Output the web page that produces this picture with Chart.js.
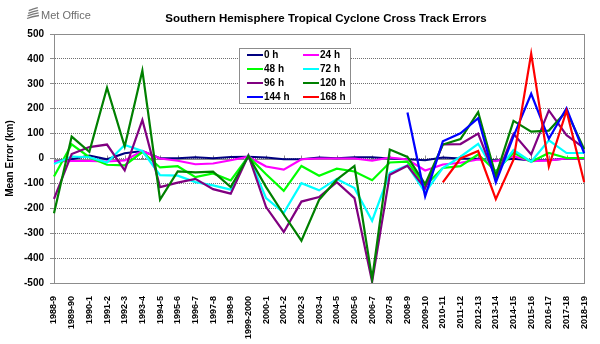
<!DOCTYPE html>
<html>
<head>
<meta charset="utf-8">
<script src="https://cdn.jsdelivr.net/npm/chart.js@4/dist/chart.umd.min.js"></script>
<style>
  html, body { margin: 0; padding: 0; background: #fff; }
  #wrap { width: 600px; height: 344px; }
</style>
</head>
<body>
<div id="wrap"><canvas id="c" width="600" height="344"></canvas></div>
<script>
// Seasons (July-June) on the category axis
const seasons = ['1988-9','1989-90','1990-1','1991-2','1992-3','1993-4','1994-5','1995-6','1996-7','1997-8',
  '1998-9','1999-2000','2000-1','2001-2','2002-3','2003-4','2004-5','2005-6','2006-7','2007-8',
  '2008-9','2009-10','2010-11','2011-12','2012-13','2013-14','2014-15','2015-16','2016-17','2017-18','2018-19'];

// Mean cross-track error (km) by forecast lead time
const err0h   = [-13, -3, 12, -3, 21, 30, 1, 1, 5, 1, 6, 7, 4, -3, -3, 4, 1, 5, 5, 0, -3, -7, 4, 0, -1, -8, -1, -8, -7, 0, 0];
const err24h  = [-12, -10, -10, -12, -8, 30, 0, -9, -23, -20, -7, 7, -32, -45, -3, 0, 0, 0, -9, 4, -4, -48, -24, -17, -4, -11, 9, -11, -8, 0, 0];
const err48h  = [-72, 57, 5, -25, -28, 26, -36, -31, -75, -60, -88, 8, -63, -130, -30, -69, -41, -52, -87, -16, -13, -110, -38, -31, 16, -51, 23, -13, 22, 2, 2];
const err72h  = [-22, 8, 5, -16, 54, 30, -67, -69, -95, -108, -125, 12, -159, -218, -99, -128, -82, -119, -250, -58, -28, -137, -38, 7, 59, -60, 34, -13, 73, 22, 22];
const err96h  = [-162, 18, 46, 56, -48, 155, -115, -97, -82, -123, -141, 12, -195, -295, -173, -155, -95, -159, -495, -65, -29, -120, 57, 58, 100, -82, 99, 16, 193, 94, 42];
const err120h = [-220, 88, 27, 284, 48, 353, -165, -52, -56, -53, -115, 10, -115, -225, -330, -166, -85, -30, -485, 36, 6, -103, 56, 78, 186, -70, 151, 108, 112, 190, 37];
const err144h = [null, null, null, null, null, null, null, null, null, null, null, null, null, null, null, null, null, null, null, null,
  185, -152, 69, 101, 162, -96, 89, 260, 79, 202, 21];
const err168h = [null, null, null, null, null, null, null, null, null, null, null, null, null, null, null, null, null, null, null, null, null, null,
  -96, 0, 30, -163, -5, 421, -32, 192, -95];

const leadLabels = ['0 h', '24 h', '48 h', '72 h', '96 h', '120 h', '144 h', '168 h'];
const leadColors = ['#000080', '#ff00ff', '#00ff00', '#00ffff', '#800080', '#008000', '#0000ff', '#ff0000'];
const leadSeries = [err0h, err24h, err48h, err72h, err96h, err120h, err144h, err168h];

const FONT = '"Liberation Sans", Arial, sans-serif';

// Plot frame plus the category axis line crossing at zero
const framePlugin = {
  id: 'frame',
  beforeDatasetsDraw(chart) {
    const { ctx, chartArea: a, scales: { x, y } } = chart;
    ctx.save();
    ctx.strokeStyle = '#8c8c8c';
    ctx.lineWidth = 1;
    ctx.strokeRect(Math.round(a.left) + 0.5, Math.round(a.top) + 0.5,
      Math.round(a.right - a.left), Math.round(a.bottom - a.top));
    const y0 = Math.round(y.getPixelForValue(0)) + 0.5;
    ctx.beginPath();
    ctx.moveTo(a.left, y0);
    ctx.lineTo(a.right, y0);
    for (let i = 0; i < seasons.length; i++) {
      const px = Math.round(x.getPixelForValue(i)) + 0.5;
      ctx.moveTo(px, y0 - 4);
      ctx.lineTo(px, y0);
    }
    ctx.stroke();
    ctx.restore();
  }
};

// Boxed two-column key inside the plot
const keyPlugin = {
  id: 'key',
  afterDatasetsDraw(chart) {
    const { ctx } = chart;
    ctx.save();
    ctx.fillStyle = '#ffffff';
    ctx.fillRect(239.5, 48.5, 111, 55);
    ctx.strokeStyle = '#8c8c8c';
    ctx.lineWidth = 1;
    ctx.strokeRect(239.5, 48.5, 111, 55);
    ctx.font = 'bold 10px ' + FONT;
    ctx.textBaseline = 'middle';
    ctx.textAlign = 'left';
    const rows = [55, 69, 83, 97];
    const cols = [247, 303];
    chart.data.datasets.forEach((ds, i) => {
      const cx = cols[i % 2];
      const cy = rows[Math.floor(i / 2)];
      ctx.strokeStyle = ds.borderColor;
      ctx.lineWidth = 2;
      ctx.beginPath();
      ctx.moveTo(cx, cy);
      ctx.lineTo(cx + 16, cy);
      ctx.stroke();
      ctx.fillStyle = '#000';
      ctx.fillText(ds.label, cx + 17, cy + 0.5);
    });
    ctx.restore();
  }
};

// Heading and organisation mark
const headPlugin = {
  id: 'head',
  afterDraw(chart) {
    const { ctx } = chart;
    ctx.save();
    ctx.fillStyle = '#000';
    ctx.font = 'bold 11.5px ' + FONT;
    ctx.textAlign = 'center';
    ctx.textBaseline = 'middle';
    ctx.fillText('Southern Hemisphere Tropical Cyclone Cross Track Errors', 326, 19);

    ctx.strokeStyle = '#7a7a7a';
    ctx.lineWidth = 1.3;
    for (let k = 0; k < 4; k++) {
      ctx.beginPath();
      ctx.moveTo(27 + k * 0.6, 18.5 - k * 2.6);
      ctx.quadraticCurveTo(32 + k * 0.6, 16.5 - k * 2.6, 39 - k * 0.4, 15.5 - k * 2.6);
      ctx.stroke();
    }
    ctx.fillStyle = '#6e6e6e';
    ctx.font = '11px ' + FONT;
    ctx.textAlign = 'left';
    ctx.fillText('Met Office', 41, 15.5);
    ctx.restore();
  }
};

new Chart(document.getElementById('c'), {
  type: 'line',
  data: {
    labels: seasons,
    datasets: leadSeries.map((vals, i) => ({
      label: leadLabels[i],
      data: vals,
      borderColor: leadColors[i],
      backgroundColor: leadColors[i],
      borderWidth: 2.2,
      pointRadius: 0,
      tension: 0,
      fill: false,
      order: leadSeries.length - i
    }))
  },
  options: {
    responsive: false,
    animation: false,
    devicePixelRatio: 1,
    layout: { padding: { top: 34, right: 14, left: 0, bottom: 0 } },
    plugins: {
      legend: { display: false },
      title: { display: false },
      tooltip: { enabled: false }
    },
    scales: {
      x: {
        type: 'category',
        offset: false,
        grid: { display: false },
        border: { display: false },
        ticks: {
          autoSkip: false,
          maxRotation: 90,
          minRotation: 90,
          padding: 5,
          color: '#000',
          font: { family: FONT, size: 9, weight: 'bold' }
        },
        afterFit(s) { s.height = 61; }
      },
      y: {
        min: -500,
        max: 500,
        ticks: {
          stepSize: 100,
          padding: 6,
          color: '#000',
          font: { family: FONT, size: 10, weight: 'bold' }
        },
        grid: { color: '#6f6f6f', tickColor: '#8c8c8c', tickLength: 4, lineWidth: 1 },
        border: { display: true, color: '#8c8c8c', dash: [1, 1] },
        title: {
          display: true,
          text: 'Mean Error (km)',
          color: '#000',
          padding: { top: 4, bottom: 0 },
          font: { family: FONT, size: 10, weight: 'bold' }
        },
        afterFit(s) { s.width = 54; }
      }
    }
  },
  plugins: [framePlugin, keyPlugin, headPlugin]
});
</script>
</body>
</html>
